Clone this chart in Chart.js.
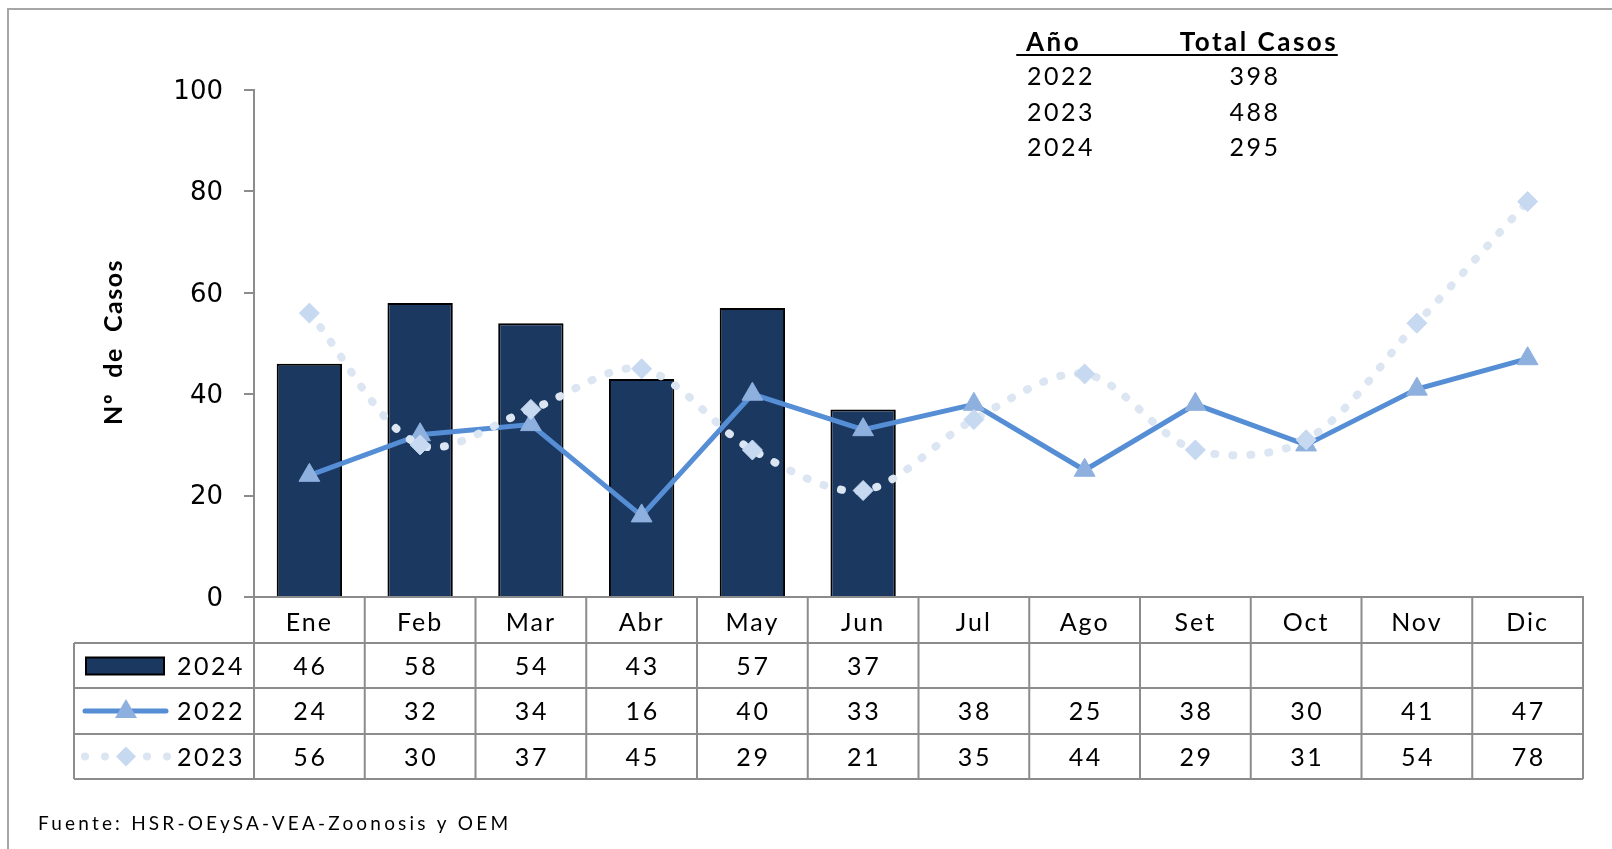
<!DOCTYPE html>
<html>
<head>
<meta charset="utf-8">
<script src="https://cdn.jsdelivr.net/npm/chart.js@4.4.1/dist/chart.umd.min.js"></script>
<style>
  html, body { margin: 0; padding: 0; background: #ffffff; }
  #wrap { width: 1612px; height: 849px; }
</style>
</head>
<body>
<div id="wrap"><canvas id="c" width="1612" height="849"></canvas></div>
<script>
const months = ['Ene','Feb','Mar','Abr','May','Jun','Jul','Ago','Set','Oct','Nov','Dic'];
const cases2024 = [46, 58, 54, 43, 57, 37, null, null, null, null, null, null];
const cases2022 = [24, 32, 34, 16, 40, 33, 38, 25, 38, 30, 41, 47];
const cases2023 = [56, 30, 37, 45, 29, 21, 35, 44, 29, 31, 54, 78];
const seriesNames = ['2024', '2022', '2023'];
const totalYears = ['2022', '2023', '2024'];
const totalCases = [398, 488, 295];
const yTitle = 'Nº  de  Casos';
const sourceNote = 'Fuente: HSR-OEySA-VEA-Zoonosis y OEM';

const C_BAR = '#1b3860';
const C_2022 = '#558ed5';
const C_2022_PT = '#8eb0de';
const C_2023 = '#dce6f2';
const C_2023_PT = '#c6d9f1';
const C_GRID = '#8c8c8c';
const TXT = 'Lato, "Open Sans", sans-serif';

function setLS(ctx, v) { if ('letterSpacing' in ctx) ctx.letterSpacing = v; }

const tablePlugin = {
  id: 'tablePlugin',
  beforeDraw(chart) {
    const ctx = chart.ctx;
    ctx.save();
    ctx.fillStyle = '#ffffff';
    ctx.fillRect(0, 0, chart.width, chart.height);
    ctx.strokeStyle = '#a6a6a6';
    ctx.lineWidth = 2;
    ctx.beginPath();
    ctx.moveTo(8, 860); ctx.lineTo(8, 9); ctx.lineTo(1620, 9);
    ctx.stroke();
    ctx.restore();
    setLS(ctx, '0px');
  },
  afterDatasetsDraw(chart) {
    setLS(chart.ctx, '2px');
  },
  afterDraw(chart) {
    const ctx = chart.ctx;
    const x = chart.scales.x;
    const area = chart.chartArea;
    const half = (x.getPixelForValue(1) - x.getPixelForValue(0)) / 2;
    const rowTop = area.bottom;
    const rows = [rowTop, 643, 688, 734, 779];
    const leftEdge = 74;
    ctx.save();
    // grid of data table
    ctx.strokeStyle = C_GRID;
    ctx.lineWidth = 2;
    ctx.beginPath();
    for (let r = 1; r < rows.length; r++) {
      ctx.moveTo(leftEdge, rows[r]); ctx.lineTo(area.right, rows[r]);
    }
    for (let i = 0; i <= months.length; i++) {
      const px = i < months.length ? x.getPixelForValue(i) - half : x.getPixelForValue(months.length - 1) + half;
      ctx.moveTo(px, rows[0]); ctx.lineTo(px, rows[4]);
    }
    ctx.moveTo(leftEdge, rows[1]); ctx.lineTo(leftEdge, rows[4]);
    ctx.stroke();

    // values
    const data = [cases2024, cases2022, cases2023];
    ctx.fillStyle = '#000';
    ctx.font = '25px ' + TXT;
    setLS(ctx, '2.5px');
    ctx.textAlign = 'center';
    ctx.textBaseline = 'middle';
    data.forEach((arr, r) => {
      const cy = (rows[r + 1] + rows[r + 2]) / 2 + 1;
      arr.forEach((v, i) => {
        if (v !== null) ctx.fillText(String(v), x.getPixelForValue(i) + 1, cy);
      });
    });

    // legend keys
    ctx.textAlign = 'right';
    data.forEach((arr, r) => {
      const cy = (rows[r + 1] + rows[r + 2]) / 2 + 1;
      ctx.fillStyle = '#000';
      ctx.fillText(seriesNames[r], 245, cy);
    });
    // 2024 key
    let cy = (rows[1] + rows[2]) / 2;
    ctx.fillStyle = C_BAR;
    ctx.fillRect(86, cy - 8, 78, 17);
    ctx.strokeStyle = '#000';
    ctx.lineWidth = 2;
    ctx.strokeRect(86, cy - 8, 78, 17);
    // 2022 key
    cy = (rows[2] + rows[3]) / 2;
    ctx.strokeStyle = C_2022;
    ctx.lineWidth = 5;
    ctx.lineCap = 'round';
    ctx.beginPath(); ctx.moveTo(85, cy); ctx.lineTo(166, cy); ctx.stroke();
    ctx.fillStyle = C_2022_PT;
    ctx.beginPath();
    ctx.moveTo(126, cy - 12); ctx.lineTo(137, cy + 7); ctx.lineTo(115, cy + 7); ctx.closePath();
    ctx.fill();
    // 2023 key
    cy = (rows[3] + rows[4]) / 2;
    ctx.fillStyle = C_2023;
    [85, 105, 147, 167].forEach(px => { ctx.beginPath(); ctx.arc(px, cy, 4, 0, Math.PI * 2); ctx.fill(); });
    ctx.fillStyle = C_2023_PT;
    ctx.beginPath();
    ctx.moveTo(126, cy - 10); ctx.lineTo(136, cy); ctx.lineTo(126, cy + 10); ctx.lineTo(116, cy); ctx.closePath();
    ctx.fill();

    // y axis title
    ctx.save();
    ctx.translate(114, 342);
    ctx.rotate(-Math.PI / 2);
    ctx.font = 'bold 25px ' + TXT;
    setLS(ctx, '1.5px');
    ctx.textAlign = 'center';
    ctx.textBaseline = 'middle';
    ctx.fillStyle = '#000';
    ctx.fillText(yTitle, 0, 0);
    ctx.restore();

    // totals table
    ctx.fillStyle = '#000';
    ctx.font = 'bold 26px ' + TXT;
    setLS(ctx, '2.5px');
    ctx.textBaseline = 'alphabetic';
    ctx.textAlign = 'left';
    ctx.fillText('Año', 1026, 51);
    ctx.textAlign = 'center';
    ctx.fillText('Total Casos', 1259, 51);
    ctx.strokeStyle = '#000';
    ctx.lineWidth = 2;
    ctx.beginPath(); ctx.moveTo(1017, 55); ctx.lineTo(1337, 55); ctx.stroke();
    ctx.font = '25px ' + TXT;
    ctx.textBaseline = 'middle';
    const ty = [77, 113, 148];
    totalYears.forEach((yr, i) => {
      ctx.textAlign = 'left';
      ctx.fillText(yr, 1027, ty[i]);
      ctx.textAlign = 'center';
      ctx.fillText(String(totalCases[i]), 1255, ty[i]);
    });

    // source
    ctx.font = '19px ' + TXT;
    setLS(ctx, '3.2px');
    ctx.textAlign = 'left';
    ctx.textBaseline = 'middle';
    ctx.fillText(sourceNote, 38, 824);
    ctx.restore();
    setLS(ctx, '0px');
  }
};

new Chart(document.getElementById('c'), {
  data: {
    labels: months,
    datasets: [
      {
        type: 'bar', label: '2024', data: cases2024, order: 3,
        backgroundColor: C_BAR, borderColor: '#000', borderWidth: 2,
        barPercentage: 0.59, categoryPercentage: 1.0
      },
      {
        type: 'line', label: '2022', data: cases2022, order: 2,
        borderColor: C_2022, borderWidth: 5, tension: 0,
        pointStyle: 'triangle', pointRadius: 12, pointBackgroundColor: C_2022_PT,
        pointBorderColor: C_2022_PT, pointBorderWidth: 1
      },
      {
        type: 'line', label: '2023', data: cases2023, order: 1,
        borderColor: C_2023, borderWidth: 8, borderDash: [1, 17], borderCapStyle: 'round',
        tension: 0.32,
        pointStyle: 'rectRot', pointRadius: 10, pointBackgroundColor: C_2023_PT,
        pointBorderColor: C_2023_PT, pointBorderWidth: 1
      }
    ]
  },
  options: {
    responsive: false,
    animation: false,
    devicePixelRatio: 1,
    layout: { padding: { top: 90, right: 29, bottom: 0, left: 0 } },
    plugins: { legend: { display: false }, tooltip: { enabled: false } },
    scales: {
      x: {
        type: 'category',
        offset: true,
        afterFit: s => { s.height = 252; },
        grid: { display: false, drawTicks: false },
        border: { display: true, color: C_GRID, width: 2 },
        ticks: { z: 1, color: '#000', font: { family: TXT, size: 25 }, padding: 11, maxRotation: 0, autoSkip: false }
      },
      y: {
        min: 0, max: 100,
        afterFit: s => { s.width = 254; },
        grid: { drawOnChartArea: false, drawTicks: true, tickLength: 10, color: C_GRID, lineWidth: 2 },
        border: { display: true, color: C_GRID, width: 2 },
        ticks: { stepSize: 20, color: '#000', font: { family: '"DejaVu Sans", sans-serif', size: 26 }, padding: 21, labelOffset: 2 }
      }
    }
  },
  plugins: [tablePlugin]
});
</script>
</body>
</html>
